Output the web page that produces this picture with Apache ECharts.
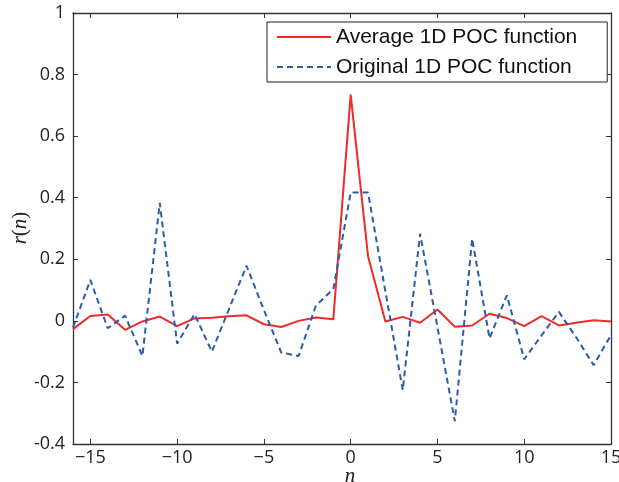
<!DOCTYPE html>
<html>
<head>
<meta charset="utf-8">
<script src="https://cdn.jsdelivr.net/npm/echarts@6/dist/echarts.min.js"></script>
<style>
  html, body { margin: 0; padding: 0; background: #fff; }
  #chart { width: 619px; height: 482px; }
</style>
</head>
<body>
<div id="chart"></div>
<script>
// Shift index n
const lags = [-16, -15, -14, -13, -12, -11, -10, -9, -8, -7, -6, -5, -4, -3, -2, -1,
              0, 1, 2, 3, 4, 5, 6, 7, 8, 9, 10, 11, 12, 13, 14, 15];

// Averaged phase-only correlation
const averagePoc = [-0.027, 0.016, 0.021, -0.029, -0.002, 0.014, -0.017, 0.008, 0.010, 0.015, 0.018, -0.011, -0.020, 0.000, 0.011, 0.005,
                    0.735, 0.210, -0.002, 0.013, -0.006, 0.037, -0.019, -0.015, 0.023, 0.009, -0.017, 0.015, -0.015, -0.006, 0.002, -0.002];

// Single (original) phase-only correlation
const originalPoc = [-0.022, 0.133, -0.024, 0.017, -0.114, 0.383, -0.074, 0.022, -0.100, 0.040, 0.179, 0.035, -0.103, -0.114, 0.050, 0.103,
                     0.417, 0.417, 0.096, -0.225, 0.283, -0.020, -0.326, 0.267, -0.057, 0.083, -0.125, -0.047, 0.029, -0.054, -0.144, -0.046];

const xTicks = [-15, -10, -5, 0, 5, 10, 15];

const pairs = (ys) => lags.map((n, i) => [n, ys[i]]);

const axisColor = '#333';
const tickFont = { fontFamily: 'Open Sans', fontSize: 18, color: '#222' };
const italicSerif = { fontFamily: 'Liberation Serif', fontStyle: 'italic', fontSize: 21, fill: '#222' };

const chart = echarts.init(document.getElementById('chart'), null, { renderer: 'canvas' });

chart.setOption({
  animation: false,
  backgroundColor: '#fff',
  grid: { left: 73, right: 8, top: 13, bottom: 38, containLabel: false, outerBoundsMode: 'none' },
  legend: {
    left: 267, top: 22,
    orient: 'vertical',
    itemWidth: 54, itemHeight: 14, itemGap: 8,
    padding: [4, 30, 4, 9],
    borderColor: '#222', borderWidth: 1, backgroundColor: '#fff',
    itemStyle: { opacity: 0 },
    textStyle: { fontFamily: 'Liberation Sans', fontSize: 21, color: '#111', lineHeight: 22 },
    data: ['Average 1D POC function', 'Original 1D POC function']
  },
  // axis titles: n below the x axis, r(n) beside the y axis
  graphic: [
    {
      type: 'text', x: 350, y: 476,
      style: { text: 'n', ...italicSerif, align: 'center', verticalAlign: 'middle' }
    },
    {
      type: 'text', x: 20, y: 228, rotation: Math.PI / 2,
      style: {
        text: '{i|r}(n)'.replace('(n)', '({i|n})'),
        fontFamily: 'Liberation Serif', fontSize: 21, fill: '#222',
        align: 'center', verticalAlign: 'middle',
        rich: { i: { ...italicSerif } }
      }
    }
  ],
  xAxis: [
    {
      type: 'value', min: -16, max: 15, position: 'bottom',
      splitLine: { show: false },
      axisLine: { show: true, onZero: false, lineStyle: { color: axisColor, width: 1.3 } },
      axisTick: { show: true, inside: true, length: 5, customValues: xTicks, lineStyle: { color: axisColor } },
      axisLabel: {
        ...tickFont, margin: 5, customValues: xTicks,
        formatter: (v) => (v < 0 ? '\u2212' + Math.abs(v) : String(v))
      }
    },
    {
      type: 'value', min: -16, max: 15, position: 'top',
      splitLine: { show: false },
      axisLine: { show: true, onZero: false, lineStyle: { color: axisColor, width: 1.3 } },
      axisTick: { show: true, inside: true, length: 5, customValues: xTicks, lineStyle: { color: axisColor } },
      axisLabel: { show: false }
    }
  ],
  yAxis: [
    {
      type: 'value', min: -0.4, max: 1, interval: 0.2, position: 'left',
      splitLine: { show: false },
      axisLine: { show: true, onZero: false, lineStyle: { color: axisColor, width: 1.3 } },
      axisTick: { show: true, inside: true, length: 5, lineStyle: { color: axisColor } },
      axisLabel: { ...tickFont, margin: 8, formatter: (v) => String(+v.toFixed(1)) }
    },
    {
      type: 'value', min: -0.4, max: 1, interval: 0.2, position: 'right',
      splitLine: { show: false },
      axisLine: { show: true, onZero: false, lineStyle: { color: axisColor, width: 1.3 } },
      axisTick: { show: true, inside: true, length: 5, lineStyle: { color: axisColor } },
      axisLabel: { show: false }
    }
  ],
  series: [
    {
      name: 'Average 1D POC function',
      type: 'line', symbol: 'none', xAxisIndex: 0, yAxisIndex: 0,
      data: pairs(averagePoc),
      lineStyle: { color: '#ee2a2a', width: 2 },
      itemStyle: { color: '#ee2a2a' }
    },
    {
      name: 'Original 1D POC function',
      type: 'line', symbol: 'none', xAxisIndex: 0, yAxisIndex: 0,
      data: pairs(originalPoc),
      lineStyle: { color: '#2b5cab', width: 2, type: [6, 4] },
      itemStyle: { color: '#2b5cab' }
    }
  ]
});
</script>
</body>
</html>
